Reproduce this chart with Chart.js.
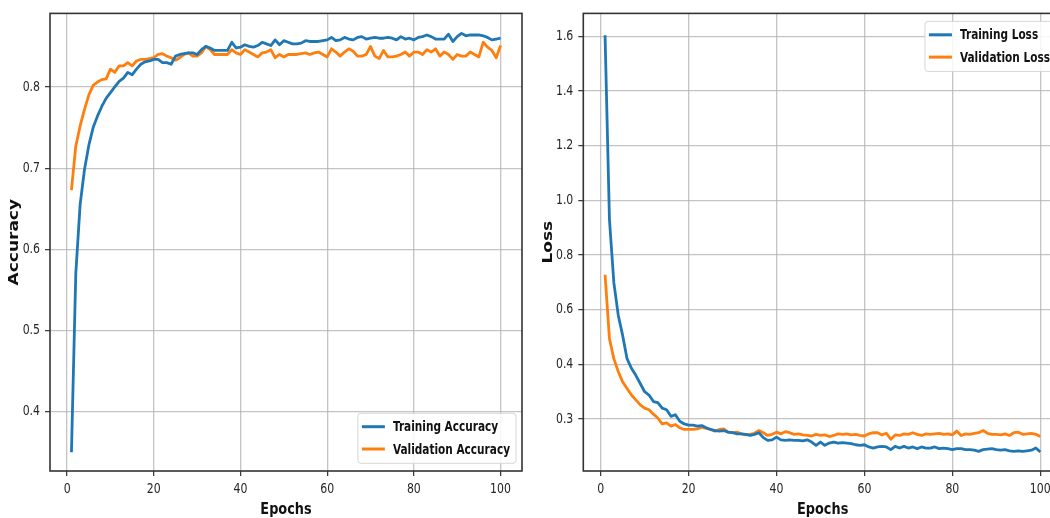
<!DOCTYPE html>
<html>
<head>
<meta charset="utf-8">
<script src="https://cdn.jsdelivr.net/npm/chart.js@4.4.1/dist/chart.umd.min.js"></script>
<style>
  html, body { margin: 0; padding: 0; background: #fff; width: 1050px; height: 518px; overflow: hidden; position: relative; }
  canvas { position: absolute; top: 0; }
  #accChart { left: 0; }
  #lossChart { left: 530px; }
</style>
</head>
<body>
<canvas id="accChart" width="530" height="518"></canvas>
<canvas id="lossChart" width="545" height="518"></canvas>
<script>
// ---------------- DATA ----------------
const EPOCHS = Array.from({ length: 100 }, (_, i) => i + 1);

const TRAIN_ACC = [
  0.350, 0.570, 0.655, 0.698, 0.728, 0.750, 0.764, 0.776, 0.786, 0.793,
  0.800, 0.807, 0.811, 0.818, 0.815, 0.822, 0.828, 0.831, 0.832, 0.834,
  0.834, 0.830, 0.830, 0.828, 0.838, 0.840, 0.841, 0.842, 0.842, 0.840,
  0.846, 0.850, 0.848, 0.845, 0.845, 0.845, 0.845, 0.855, 0.848, 0.849,
  0.852, 0.850, 0.849, 0.851, 0.855, 0.853, 0.851, 0.858, 0.852, 0.857,
  0.855, 0.853, 0.853, 0.854, 0.857, 0.856, 0.856, 0.856, 0.857, 0.858,
  0.861, 0.857, 0.858, 0.861, 0.859, 0.858, 0.861, 0.862, 0.859, 0.860,
  0.861, 0.860, 0.860, 0.861, 0.860, 0.858, 0.862, 0.859, 0.860, 0.858,
  0.861, 0.862, 0.864, 0.862, 0.859, 0.859, 0.859, 0.865, 0.856, 0.862,
  0.866, 0.863, 0.864, 0.864, 0.864, 0.863, 0.861, 0.858, 0.859, 0.860
];
const VAL_ACC = [
  0.673, 0.727, 0.752, 0.772, 0.790, 0.802, 0.806, 0.809, 0.810, 0.822,
  0.818, 0.826, 0.826, 0.830, 0.826, 0.832, 0.834, 0.834, 0.835, 0.836,
  0.840, 0.841, 0.838, 0.836, 0.833, 0.836, 0.840, 0.842, 0.838, 0.838,
  0.842, 0.850, 0.846, 0.840, 0.840, 0.840, 0.840, 0.846, 0.842, 0.840,
  0.846, 0.843, 0.840, 0.837, 0.842, 0.843, 0.846, 0.836, 0.840, 0.837,
  0.840, 0.840, 0.840, 0.841, 0.842, 0.840, 0.842, 0.843, 0.840, 0.837,
  0.847, 0.843, 0.838, 0.843, 0.847, 0.844, 0.838, 0.838, 0.840, 0.850,
  0.838, 0.835, 0.845, 0.837, 0.837, 0.838, 0.840, 0.843, 0.838, 0.843,
  0.843, 0.840, 0.846, 0.843, 0.847, 0.838, 0.843, 0.840, 0.834, 0.840,
  0.838, 0.838, 0.843, 0.840, 0.837, 0.855, 0.849, 0.845, 0.836, 0.851
];
const TRAIN_LOSS = [
  1.604, 0.930, 0.699, 0.580, 0.506, 0.421, 0.393, 0.380, 0.365, 0.350,
  0.344, 0.332, 0.330, 0.320, 0.317, 0.305, 0.308, 0.296, 0.291, 0.289,
  0.289, 0.287, 0.288, 0.284, 0.281, 0.279, 0.278, 0.279, 0.276, 0.275,
  0.273, 0.273, 0.272, 0.270, 0.272, 0.275, 0.266, 0.261, 0.262, 0.267,
  0.262, 0.261, 0.262, 0.261, 0.261, 0.260, 0.262, 0.258, 0.252, 0.258,
  0.252, 0.256, 0.258, 0.256, 0.257, 0.256, 0.255, 0.253, 0.252, 0.253,
  0.249, 0.247, 0.249, 0.250, 0.249, 0.244, 0.250, 0.247, 0.250, 0.247,
  0.249, 0.246, 0.249, 0.247, 0.247, 0.249, 0.246, 0.247, 0.246, 0.244,
  0.246, 0.246, 0.244, 0.244, 0.243, 0.241, 0.244, 0.245, 0.246, 0.244,
  0.243, 0.244, 0.242, 0.241, 0.242, 0.241, 0.242, 0.243, 0.247, 0.240
];
const VAL_LOSS = [
  0.728, 0.494, 0.421, 0.387, 0.368, 0.356, 0.344, 0.335, 0.326, 0.320,
  0.317, 0.309, 0.302, 0.291, 0.293, 0.287, 0.290, 0.284, 0.281, 0.281,
  0.281, 0.282, 0.285, 0.283, 0.281, 0.278, 0.281, 0.282, 0.276, 0.275,
  0.276, 0.273, 0.271, 0.272, 0.274, 0.279, 0.275, 0.270, 0.272, 0.276,
  0.273, 0.277, 0.275, 0.272, 0.273, 0.271, 0.270, 0.269, 0.272, 0.270,
  0.271, 0.268, 0.270, 0.273, 0.272, 0.273, 0.271, 0.272, 0.270, 0.269,
  0.273, 0.275, 0.275, 0.271, 0.274, 0.263, 0.271, 0.270, 0.273, 0.272,
  0.275, 0.272, 0.270, 0.273, 0.272, 0.273, 0.274, 0.272, 0.273, 0.271,
  0.278, 0.270, 0.273, 0.272, 0.274, 0.275, 0.279, 0.274, 0.272, 0.272,
  0.271, 0.273, 0.270, 0.275, 0.276, 0.272, 0.273, 0.274, 0.272, 0.268
];

const X_TICKS = [0, 20, 40, 60, 80, 100];
const ACC_TICKS = [0.4, 0.5, 0.6, 0.7, 0.8];
const LOSS_TICKS = [0.3, 0.4, 0.6, 0.8, 1.0, 1.2, 1.4, 1.6];

const ACC_LABELS = ['Training Accuracy', 'Validation Accuracy'];
const LOSS_LABELS = ['Training Loss', 'Validation Loss'];

// ---------------- STYLE ----------------
const BLUE = '#1f77b4';
const ORANGE = '#ff7f0e';
const FONT = "'DejaVu Sans', sans-serif";
const GRID = 'rgba(176,176,176,0.75)';
const SQ = 0.78; // horizontal squeeze of the reference's lettering

// text is drawn with fillText, squeezed like the reference picture
function condense(canvas) {
  const ctx = canvas.getContext('2d');
  const orig = ctx.fillText.bind(ctx);
  ctx.fillText = function (text, x, y, maxWidth) {
    const m = ctx.getTransform();
    ctx.save();
    ctx.translate(x, y);
    if (Math.abs(m.b) > 0.01) ctx.scale(1, SQ); else ctx.scale(SQ, 1);
    if (maxWidth !== undefined && maxWidth !== null) orig(text, 0, 0, maxWidth / SQ);
    else orig(text, 0, 0);
    ctx.restore();
  };
}

// piecewise-linear loss scale (0.1 per step below 0.4, 0.2 per step above)
function fwd(v) { return v >= 0.4 ? 1 + (v - 0.4) / 0.2 : (v - 0.3) / 0.1; }
function inv(t) { return t >= 1 ? 0.4 + (t - 1) * 0.2 : 0.3 + t * 0.1; }

class PiecewiseScale extends Chart.LinearScale {
  determineDataLimits() {
    this.min = this.options.min;
    this.max = this.options.max;
  }
  buildTicks() {
    return LOSS_TICKS.map(v => ({ value: v }));
  }
  getPixelForValue(value) {
    if (value === null || value === undefined || isNaN(value)) return NaN;
    const t0 = fwd(this.min), t1 = fwd(this.max);
    return this.getPixelForDecimal((fwd(value) - t0) / (t1 - t0));
  }
  getValueForPixel(pixel) {
    const t0 = fwd(this.min), t1 = fwd(this.max);
    return inv(t0 + this.getDecimalForPixel(pixel) * (t1 - t0));
  }
}
PiecewiseScale.id = 'piecewise';
PiecewiseScale.defaults = Chart.LinearScale.defaults;
Chart.register(PiecewiseScale);

const framePlugin = {
  id: 'frame',
  afterDatasetsDraw(chart) {
    const { ctx, chartArea: a } = chart;
    ctx.save();
    ctx.strokeStyle = '#333';
    ctx.lineWidth = 1.6;
    ctx.strokeRect(a.left, a.top, a.right - a.left, a.bottom - a.top);
    ctx.restore();
  }
};

const innerLegend = {
  id: 'innerLegend',
  afterDraw(chart, args, opts) {
    const { ctx, chartArea: a } = chart;
    const ds = chart.data.datasets;
    ctx.save();
    ctx.font = 'bold 13.5px ' + FONT;
    const tw = SQ * Math.max(...ds.map(d => ctx.measureText(d.label).width));
    const w = 35 + tw + 6, h = 50;
    const x = a.right - 6 - w;
    const y = opts.corner === 'lower' ? a.bottom - 7.7 - h : a.top + 8;
    ctx.fillStyle = 'rgba(255,255,255,0.85)';
    ctx.strokeStyle = '#d6d6d6';
    ctx.lineWidth = 1;
    ctx.beginPath();
    ctx.roundRect(x, y, w, h, 3);
    ctx.fill();
    ctx.stroke();
    ds.forEach((d, i) => {
      const ry = y + 13.4 + i * 22.3;
      ctx.strokeStyle = d.borderColor;
      ctx.lineWidth = 3;
      ctx.beginPath();
      ctx.moveTo(x + 4, ry);
      ctx.lineTo(x + 27, ry);
      ctx.stroke();
      ctx.fillStyle = '#111';
      ctx.textBaseline = 'middle';
      ctx.textAlign = 'left';
      ctx.fillText(d.label, x + 35, ry + 1);
    });
    ctx.restore();
  }
};

function series(xs, ys) { return xs.map((x, i) => ({ x: x, y: ys[i] })); }

function lineDs(label, data, color) {
  return {
    label: label,
    data: data,
    borderColor: color,
    backgroundColor: color,
    borderWidth: 2.8,
    pointRadius: 0,
    tension: 0,
    borderJoinStyle: 'round',
    fill: false
  };
}

function xAxis() {
  return {
    type: 'linear',
    min: -3.95,
    max: 104.95,
    afterBuildTicks: s => { s.ticks = X_TICKS.map(v => ({ value: v })); },
    afterFit: s => { s.height = 47; },
    grid: { color: GRID, lineWidth: 1.3, drawTicks: true, tickLength: 5, tickColor: '#333', tickWidth: 1.2 },
    border: { display: false },
    ticks: { color: '#262626', font: { family: FONT, size: 14 }, padding: 5, maxRotation: 0, autoSkip: false,
             callback: v => String(v) },
    title: { display: true, text: 'Epochs', color: '#111', font: { family: FONT, size: 16.5, weight: 'bold', lineHeight: 1 },
             padding: { top: 0, bottom: 0 } }
  };
}

function yCommon(titleText, pad, width) {
  return {
    afterFit: s => { s.width = width; },
    grid: { color: GRID, lineWidth: 1.3, drawTicks: true, tickLength: 5, tickColor: '#333', tickWidth: 1.2 },
    border: { display: false },
    ticks: { color: '#262626', font: { family: FONT, size: 14 }, padding: 5, autoSkip: false,
             callback: v => Number(v).toFixed(1) },
    title: { display: true, text: titleText, color: '#111', font: { family: FONT, size: 17, weight: 'bold', lineHeight: 1 },
             padding: { top: pad, bottom: 0 } }
  };
}

// ---------------- ACCURACY CHART ----------------
const accCanvas = document.getElementById('accChart');
condense(accCanvas);
const accY = Object.assign(yCommon('Accuracy', 6.5, 50), {
  type: 'linear', min: 0.327, max: 0.8906,
  afterBuildTicks: s => { s.ticks = ACC_TICKS.map(v => ({ value: v })); }
});

new Chart(accCanvas, {
  type: 'line',
  data: {
    datasets: [
      lineDs(ACC_LABELS[0], series(EPOCHS, TRAIN_ACC), BLUE),
      lineDs(ACC_LABELS[1], series(EPOCHS, VAL_ACC), ORANGE)
    ]
  },
  options: {
    responsive: false,
    animation: false,
    devicePixelRatio: 1,
    layout: { padding: { left: 0, top: 9, right: 8, bottom: 0 } },
    scales: { x: xAxis(), y: accY },
    plugins: { legend: { display: false }, tooltip: { enabled: false }, innerLegend: { corner: 'lower' } }
  },
  plugins: [framePlugin, innerLegend]
});

// ---------------- LOSS CHART ----------------
const lossCanvas = document.getElementById('lossChart');
condense(lossCanvas);
const lossY = Object.assign(yCommon('Loss', 10.5, 53.3), {
  type: 'piecewise', min: 0.205, max: 1.684
});

new Chart(lossCanvas, {
  type: 'line',
  data: {
    datasets: [
      lineDs(LOSS_LABELS[0], series(EPOCHS, TRAIN_LOSS), BLUE),
      lineDs(LOSS_LABELS[1], series(EPOCHS, VAL_LOSS), ORANGE)
    ]
  },
  options: {
    responsive: false,
    animation: false,
    devicePixelRatio: 1,
    layout: { padding: { left: 0, top: 9, right: 13, bottom: 0 } },
    scales: { x: xAxis(), y: lossY },
    plugins: { legend: { display: false }, tooltip: { enabled: false }, innerLegend: { corner: 'upper' } }
  },
  plugins: [framePlugin, innerLegend]
});
</script>
</body>
</html>
